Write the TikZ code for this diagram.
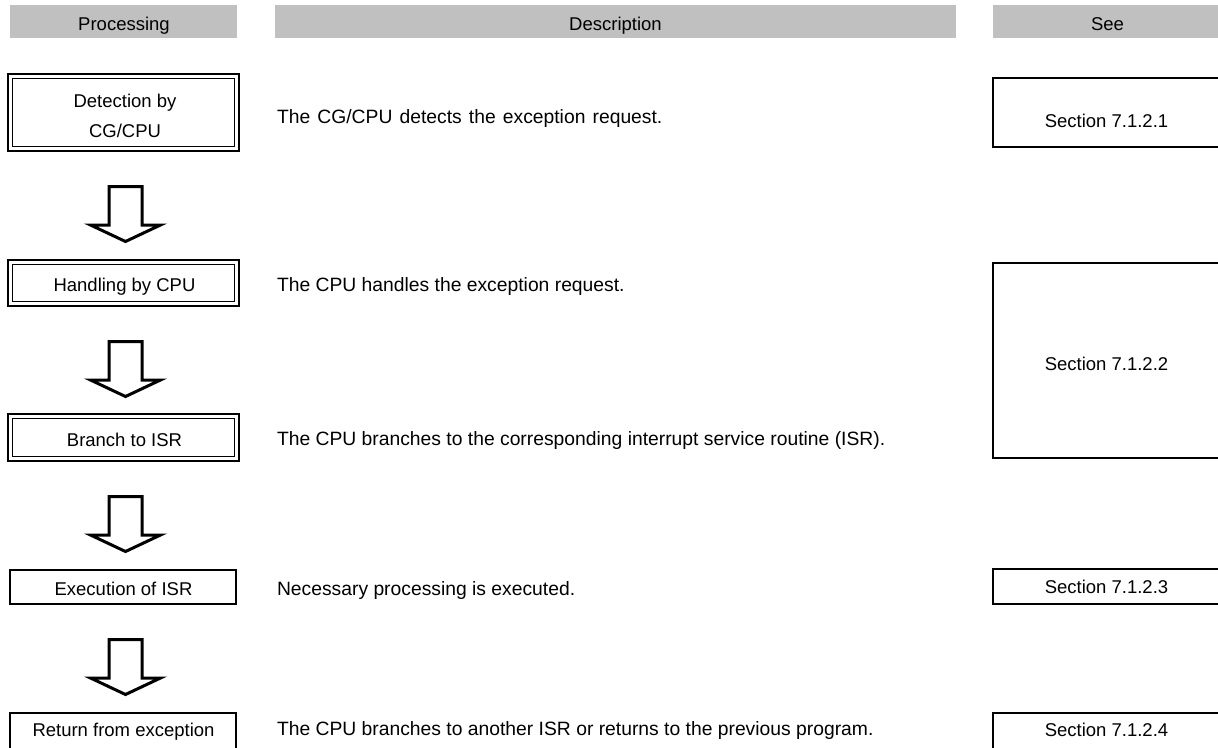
\documentclass[tikz,border=0pt]{standalone}
\usepackage{fontspec}
\setmainfont{Liberation Sans}
\newfontfamily\descwide[WordSpace=1.33]{Liberation Sans}
\definecolor{hdrgray}{RGB}{192,192,192}
\begin{document}
\begin{tikzpicture}[x=1pt,y=-1pt,
  every node/.style={font=\fontsize{18.5}{30}\selectfont, inner sep=0pt, outer sep=0pt},
  hdr/.style={fill=hdrgray, draw=none, minimum height=33pt},
  dbox/.style={draw, double, double distance=2.8pt, line width=1.8pt, minimum width=226.5pt},
  sbox/.style={draw, line width=2pt},
  lbl/.style={anchor=base, align=center},
  desc/.style={anchor=base west, font={\fontsize{19.3}{30}\selectfont}},
  barrow/.pic={\draw[line width=3pt, line join=miter, fill=white] (-16.5,0) -- (-16.5,38.5) -- (-35,38.5) -- (0,55) -- (35,38.5) -- (16.5,38.5) -- (16.5,0) -- cycle;}
]
\useasboundingbox (0,0) rectangle (1218,747);
\begin{scope}
\clip (0,0) rectangle (1218,747);
% header bars
\node[hdr, minimum width=227pt] (hp) at (123.5,21.5) {};
\node[hdr, minimum width=681pt] (hd) at (615.5,21.5) {};
\node[hdr, minimum width=228pt] (hs) at (1107,21.5) {};
\node[lbl] (hpt) at (124,30.5) {Processing};
\node[lbl] (hdt) at (615.5,30.5) {Description};
\node[lbl] (hst) at (1107.5,30.5) {See};
% processing boxes
\node[dbox, minimum height=72.5pt] (p1) at (123.5,112.5) {};
\node[dbox, minimum height=41.5pt] (p2) at (123.5,283) {};
\node[dbox, minimum height=42.5pt] (p3) at (123.5,437.5) {};
\node[sbox, minimum width=226pt, minimum height=34pt] (p4) at (123,587) {};
\draw[sbox] (10,713) rectangle (236,775);
\node[lbl] (p1t) at (125,137) {Detection by\\CG/CPU};
\node[lbl] (p2t) at (124.5,291) {Handling by CPU};
\node[lbl] (p3t) at (124.5,446) {Branch to ISR};
\node[lbl] (p4t) at (123.5,595) {Execution of ISR};
\node[lbl] (p5t) at (123.5,736) {Return from exception};
% arrows
\coordinate (a1) at (125.5,186.5);
\coordinate (a2) at (125.5,341.5);
\coordinate (a3) at (125.5,496.5);
\coordinate (a4) at (125.5,639.5);
\pic at (a1) {barrow};
\pic at (a2) {barrow};
\pic at (a3) {barrow};
\pic at (a4) {barrow};
% descriptions
\node[desc, font={\fontsize{19.3}{30}\descwide}] (d1) at (277,123) {The CG/CPU detects the exception request.};
\node[desc] (d2) at (277,291) {The CPU handles the exception request.};
\node[desc] (d3) at (277,445) {The CPU branches to the corresponding interrupt service routine (ISR).};
\node[desc] (d4) at (277,595) {Necessary processing is executed.};
\node[desc] (d5) at (277,735.5) {The CPU branches to another ISR or returns to the previous program.};
% see boxes
\draw[sbox] (993,78) rectangle (1240,147);
\draw[sbox] (993,263) rectangle (1240,458);
\draw[sbox] (993,569) rectangle (1240,604);
\draw[sbox] (993,713) rectangle (1240,775);
\node[lbl] (s1) at (1106.5,127) {Section 7.1.2.1};
\node[lbl] (s2) at (1106.5,370) {Section 7.1.2.2};
\node[lbl] (s3) at (1106.5,593) {Section 7.1.2.3};
\node[lbl] (s4) at (1106.5,736) {Section 7.1.2.4};
\end{scope}
\end{tikzpicture}
\end{document}
